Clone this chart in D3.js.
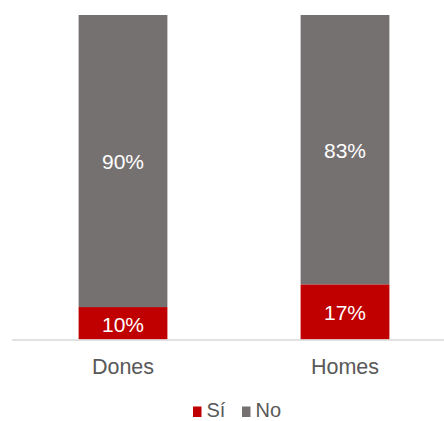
<!DOCTYPE html>
<html>
<head>
<meta charset="utf-8">
<script src="https://cdn.jsdelivr.net/npm/d3@7"></script>
<style>
  html, body { margin: 0; padding: 0; background: #ffffff; }
  svg { display: block; font-family: "Liberation Sans", Arial, sans-serif; }
</style>
</head>
<body>
<svg id="chart" width="444" height="421"></svg>
<script>
// Survey answers by gender, shown as 100% stacked bars
const categories = ["Dones", "Homes"];
const seriesNames = ["Sí", "No"];
const siValues = [10, 17];
const noValues = [90, 83];
const seriesColors = ["#C00000", "#767171"];

const svg = d3.select("#chart");
const width = 444;

const rows = categories.map((c, i) => ({ cat: c, "Sí": siValues[i], "No": noValues[i] }));
const stacked = d3.stack().keys(seriesNames)(rows);

const x = d3.scaleBand()
  .domain(categories)
  .range([12, 456])
  .paddingInner(0.6)
  .paddingOuter(0.3);

const y = d3.scaleLinear()
  .domain([0, 100])
  .range([339.5, 15]);

const color = d3.scaleOrdinal().domain(seriesNames).range(seriesColors);

// stacked segments
const layers = svg.append("g")
  .selectAll("g")
  .data(stacked)
  .join("g")
  .attr("fill", d => color(d.key));

layers.selectAll("rect")
  .data(d => d)
  .join("rect")
  .attr("x", d => x(d.data.cat))
  .attr("width", x.bandwidth())
  .attr("y", d => y(d[1]))
  .attr("height", d => y(d[0]) - y(d[1]));

// value labels in each segment
layers.selectAll("text")
  .data(d => d.map(p => ({ p, key: d.key })))
  .join("text")
  .attr("x", d => x(d.p.data.cat) + x.bandwidth() / 2)
  .attr("y", d => (y(d.p[0]) + y(d.p[1])) / 2)
  .attr("dy", "0.4em")
  .attr("text-anchor", "middle")
  .attr("fill", "#ffffff")
  .attr("font-size", "21px")
  .text(d => (d.p[1] - d.p[0]) + "%");

// category axis
const axis = svg.append("g")
  .attr("transform", `translate(0,${y(0) + 0.5})`)
  .call(d3.axisBottom(x).tickSize(0).tickPadding(0));
axis.select(".domain").attr("stroke", "#d9d9d9").attr("stroke-width", 1.5)
  .attr("d", `M12,0H${width}`);
axis.selectAll(".tick text")
  .attr("dy", null)
  .attr("y", 34)
  .attr("fill", "#595959")
  .attr("font-size", "21.5px")
  .attr("font-family", "Liberation Sans, Arial, sans-serif");

// legend
const legendItems = [
  { key: "Sí", sx: 193, tx: 206.5 },
  { key: "No", sx: 242, tx: 255.5 }
];
const legend = svg.append("g");
legend.selectAll("rect")
  .data(legendItems)
  .join("rect")
  .attr("x", d => d.sx)
  .attr("y", 406.5)
  .attr("width", 8.5)
  .attr("height", 10.5)
  .attr("fill", d => color(d.key));
legend.selectAll("text")
  .data(legendItems)
  .join("text")
  .attr("x", d => d.tx)
  .attr("y", 417)
  .attr("fill", "#595959")
  .attr("font-size", "20px")
  .text(d => d.key);
</script>
</body>
</html>
